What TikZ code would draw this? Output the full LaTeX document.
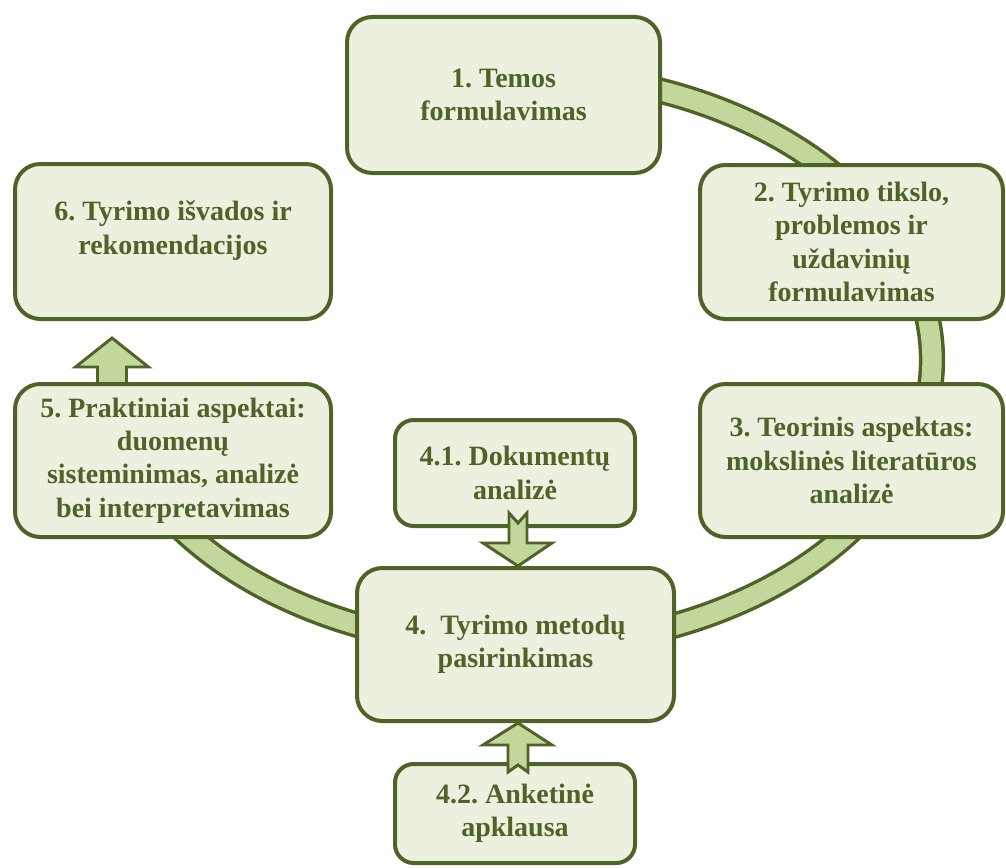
\documentclass[tikz,border=0pt]{standalone}
\usepackage{fontspec}
\setmainfont{Liberation Serif}
\frenchspacing
\definecolor{dk}{HTML}{4F6228}
\definecolor{boxfill}{HTML}{EBF1DE}
\definecolor{ringfill}{HTML}{C3D69B}
\begin{document}
\begin{tikzpicture}[x=0.75pt,y=-0.75pt,
  stagebox/.style={draw=dk, fill=boxfill, line width=3pt, rounded corners=19pt,
    inner sep=0pt, align=center, text=dk,
    font=\fontsize{21}{25}\selectfont\bfseries},
  smallbox/.style={stagebox, rounded corners=14pt},
  ringband/.style={draw=dk, line width=2.6pt, double=ringfill, double distance=14.5pt},
  blockarrow/.style={draw=dk, fill=ringfill, line width=2.2pt, line join=miter}]
\useasboundingbox (0,0) rectangle (1006,867);
% ring
\draw[ringband] plot[domain=-90:160, samples=240] ({517+415*cos(\x)},{360+287*sin(\x)});
% arrow 5 -> 6 (behind box 5)
\draw[blockarrow] (112,338) -- (148.5,367) -- (126.5,367) -- (126.5,390) -- (97.5,390) -- (97.5,367) -- (75.5,367) -- cycle;
% boxes
\node[stagebox, minimum width=234.75pt, minimum height=117pt] (b1) at (503.5,95) {1. Temos\\formulavimas};
\node[stagebox, minimum width=227.25pt, minimum height=115.5pt] (b2) at (851.5,242) {2. Tyrimo tikslo,\\problemos ir\\uždavinių\\formulavimas};
\node[stagebox, minimum width=227.25pt, minimum height=114.75pt] (b3) at (851.5,460.5) {3. Teorinis aspektas:\\mokslinės literatūros\\analizė};
\node[stagebox, minimum width=237.75pt, minimum height=114.75pt] (b4) at (515.5,644.5) {4.\ \ Tyrimo metodų\\pasirinkimas};
\node[smallbox, minimum width=180pt, minimum height=79.5pt] (b41) at (515,473) {4.1. Dokumentų\\analizė};
\node[smallbox, minimum width=180pt, minimum height=74.25pt] (b42) at (515,813.5) {4.2. Anketinė\\apklausa};
\node[stagebox, minimum width=237pt, minimum height=114.75pt] (b5) at (173,460.5) {5. Praktiniai aspektai:\\duomenų\\sisteminimas, analizė\\bei interpretavimas};
\node[stagebox, minimum width=237pt, minimum height=116.25pt] (b6) at (173,241.5) {6. Tyrimo išvados ir\\rekomendacijos\\[-11.5pt]\strut};
% arrow 4.1 -> 4
\draw[blockarrow] (509,513) -- (518,523) -- (527,513) -- (527,543) -- (552,543) -- (518,566) -- (483,543) -- (509,543) -- cycle;
% arrow 4.2 -> 4
\draw[blockarrow] (508,772) -- (518,765) -- (528,772) -- (528,745) -- (552,745) -- (518,723) -- (483,745) -- (508,745) -- cycle;
\end{tikzpicture}
\end{document}
